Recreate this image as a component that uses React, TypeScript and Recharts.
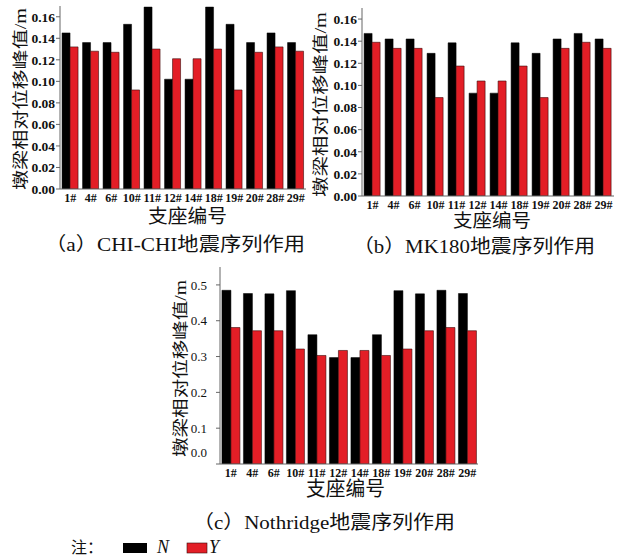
import React from 'react';
import { BarChart, Bar, XAxis, YAxis } from 'recharts';

const categories = ['1#', '4#', '6#', '10#', '11#', '12#', '14#', '18#', '19#', '20#', '28#', '29#'];
const chiN = [0.145, 0.136, 0.136, 0.153, 0.169, 0.102, 0.102, 0.169, 0.153, 0.136, 0.145, 0.136];
const chiY = [0.132, 0.128, 0.127, 0.092, 0.13, 0.121, 0.121, 0.13, 0.092, 0.127, 0.132, 0.128];
const mkN = [0.147, 0.142, 0.142, 0.129, 0.1385, 0.093, 0.093, 0.1385, 0.129, 0.142, 0.147, 0.142];
const mkY = [0.139, 0.1335, 0.1335, 0.089, 0.1175, 0.104, 0.104, 0.1175, 0.089, 0.1335, 0.139, 0.1335];
const noN = [0.485, 0.476, 0.475, 0.484, 0.361, 0.297, 0.297, 0.361, 0.484, 0.475, 0.485, 0.476];
const noY = [0.381, 0.372, 0.372, 0.321, 0.303, 0.317, 0.317, 0.303, 0.321, 0.372, 0.381, 0.372];
const smallTicks = [0, 0.02, 0.04, 0.06, 0.08, 0.1, 0.12, 0.14, 0.16];
const bigTicks = [0, 0.1, 0.2, 0.3, 0.4, 0.5];

const build = (n: number[], y: number[]) => categories.map((c, i) => ({ name: c, N: n[i], Y: y[i] }));
const dataA = build(chiN, chiY);
const dataB = build(mkN, mkY);
const dataC = build(noN, noY);

const SERIF = "'Liberation Serif', 'Times New Roman', serif";
const MIX = "'Liberation Serif', 'Noto Sans CJK SC', serif";
const RED = '#e31e26';
const AXIS = '#666';

const YTick = (props: any) => {
  const { x, y, payload, digits, size, weight, zeroShift } = props;
  const shift = payload.value === 0 && zeroShift ? zeroShift : 0;
  return (
    <text x={x} y={y + shift} dy="0.355em" textAnchor="end" fontFamily={SERIF} fontSize={size} fontWeight={weight} fill="#111">
      {Number(payload.value).toFixed(digits)}
    </text>
  );
};

const xTickStyle = { fontFamily: SERIF, fontSize: 12, fontWeight: 700, fill: '#111' };

function Panel(props: any) {
  const { data, width, height, margin, yWidth, domain, ticks, digits, gap, tickSize, tickWeight, tickMargin, zeroShift } = props;
  return (
    <BarChart width={width} height={height} data={data} margin={margin} barCategoryGap={gap} barGap={0}>
      <XAxis
        dataKey="name"
        interval={0}
        tickLine={false}
        tickSize={0}
        tickMargin={4}
        height={26}
        stroke={AXIS}
        tick={xTickStyle}
      />
      <YAxis
        width={yWidth}
        domain={domain}
        ticks={ticks}
        interval={0}
        allowDataOverflow
        stroke={AXIS}
        tickSize={4}
        tickMargin={tickMargin}
        tick={<YTick digits={digits} size={tickSize} weight={tickWeight} zeroShift={zeroShift} />}
      />
      <Bar dataKey="N" fill="#000" stroke="#000" strokeWidth={0.5} isAnimationActive={false} />
      <Bar dataKey="Y" fill={RED} stroke="#3a0a0a" strokeWidth={0.6} isAnimationActive={false} />
    </BarChart>
  );
}

export default function App() {
  return (
    <div style={{ position: 'absolute', left: 0, top: 0, width: 628, height: 558, background: '#fff', overflow: 'hidden' }}>
      <div style={{ position: 'absolute', left: 0, top: 0 }}>
        <Panel data={dataA} width={320} height={215} margin={{ top: 6, right: 14, bottom: 0, left: 0 }}
          yWidth={60} domain={[0, 0.17]} ticks={smallTicks} digits={2} gap="10%" tickSize={13.5} tickWeight={700} tickMargin={1} />
      </div>
      <div style={{ position: 'absolute', left: 300, top: 0 }}>
        <Panel data={dataB} width={328} height={222} margin={{ top: 8, right: 14, bottom: 0, left: 0 }}
          yWidth={62} domain={[0, 0.17]} ticks={smallTicks} digits={2} gap="10%" tickSize={13.5} tickWeight={700} tickMargin={1} />
      </div>
      <div style={{ position: 'absolute', left: 150, top: 260 }}>
        <Panel data={dataC} width={340} height={230} margin={{ top: 7, right: 12, bottom: 0, left: 0 }}
          yWidth={70} domain={[0, 0.55]} ticks={bigTicks} digits={1} gap="9%" tickSize={13} tickWeight={400} tickMargin={9} zeroShift={-12} />
      </div>
      <svg width={628} height={558} style={{ position: 'absolute', left: 0, top: 0, pointerEvents: 'none' }}>
        <g fontFamily={MIX} fill="#111">
          <text transform="translate(20,99) rotate(-90)" textAnchor="middle" dominantBaseline="central" fontSize={16} textLength={182} lengthAdjust="spacingAndGlyphs">墩梁相对位移峰值/m</text>
          <text transform="translate(320,104.5) rotate(-90)" textAnchor="middle" dominantBaseline="central" fontSize={16} textLength={185} lengthAdjust="spacingAndGlyphs">墩梁相对位移峰值/m</text>
          <text transform="translate(180,368.5) rotate(-90)" textAnchor="middle" dominantBaseline="central" fontSize={16} textLength={177} lengthAdjust="spacingAndGlyphs">墩梁相对位移峰值/m</text>

          <text x={148} y={223} fontSize={19} textLength={79} lengthAdjust="spacingAndGlyphs">支座编号</text>
          <text x={453} y={227} fontSize={18} textLength={78} lengthAdjust="spacingAndGlyphs">支座编号</text>
          <text x={306} y={496} fontSize={20} textLength={79} lengthAdjust="spacingAndGlyphs">支座编号</text>

          <text x={45} y={251} fontSize={19} textLength={260} lengthAdjust="spacingAndGlyphs">（a）CHI-CHI地震序列作用</text>
          <text x={353} y={253} fontSize={19} textLength={242} lengthAdjust="spacingAndGlyphs">（b）MK180地震序列作用</text>
          <text x={193} y={529} fontSize={19} textLength={262} lengthAdjust="spacingAndGlyphs">（c）Nothridge地震序列作用</text>

          <text x={71} y={553} fontSize={16}>注：</text>
          <rect x={123} y={543} width={24} height={10} fill="#000" />
          <text x={157} y={553} fontSize={18} fontStyle="italic" fontFamily={SERIF}>N</text>
          <rect x={187} y={543} width={20} height={10} fill={RED} stroke="#3a0a0a" strokeWidth={0.6} />
          <text x={209} y={553} fontSize={18} fontStyle="italic" fontFamily={SERIF}>Y</text>
        </g>
      </svg>
    </div>
  );
}
